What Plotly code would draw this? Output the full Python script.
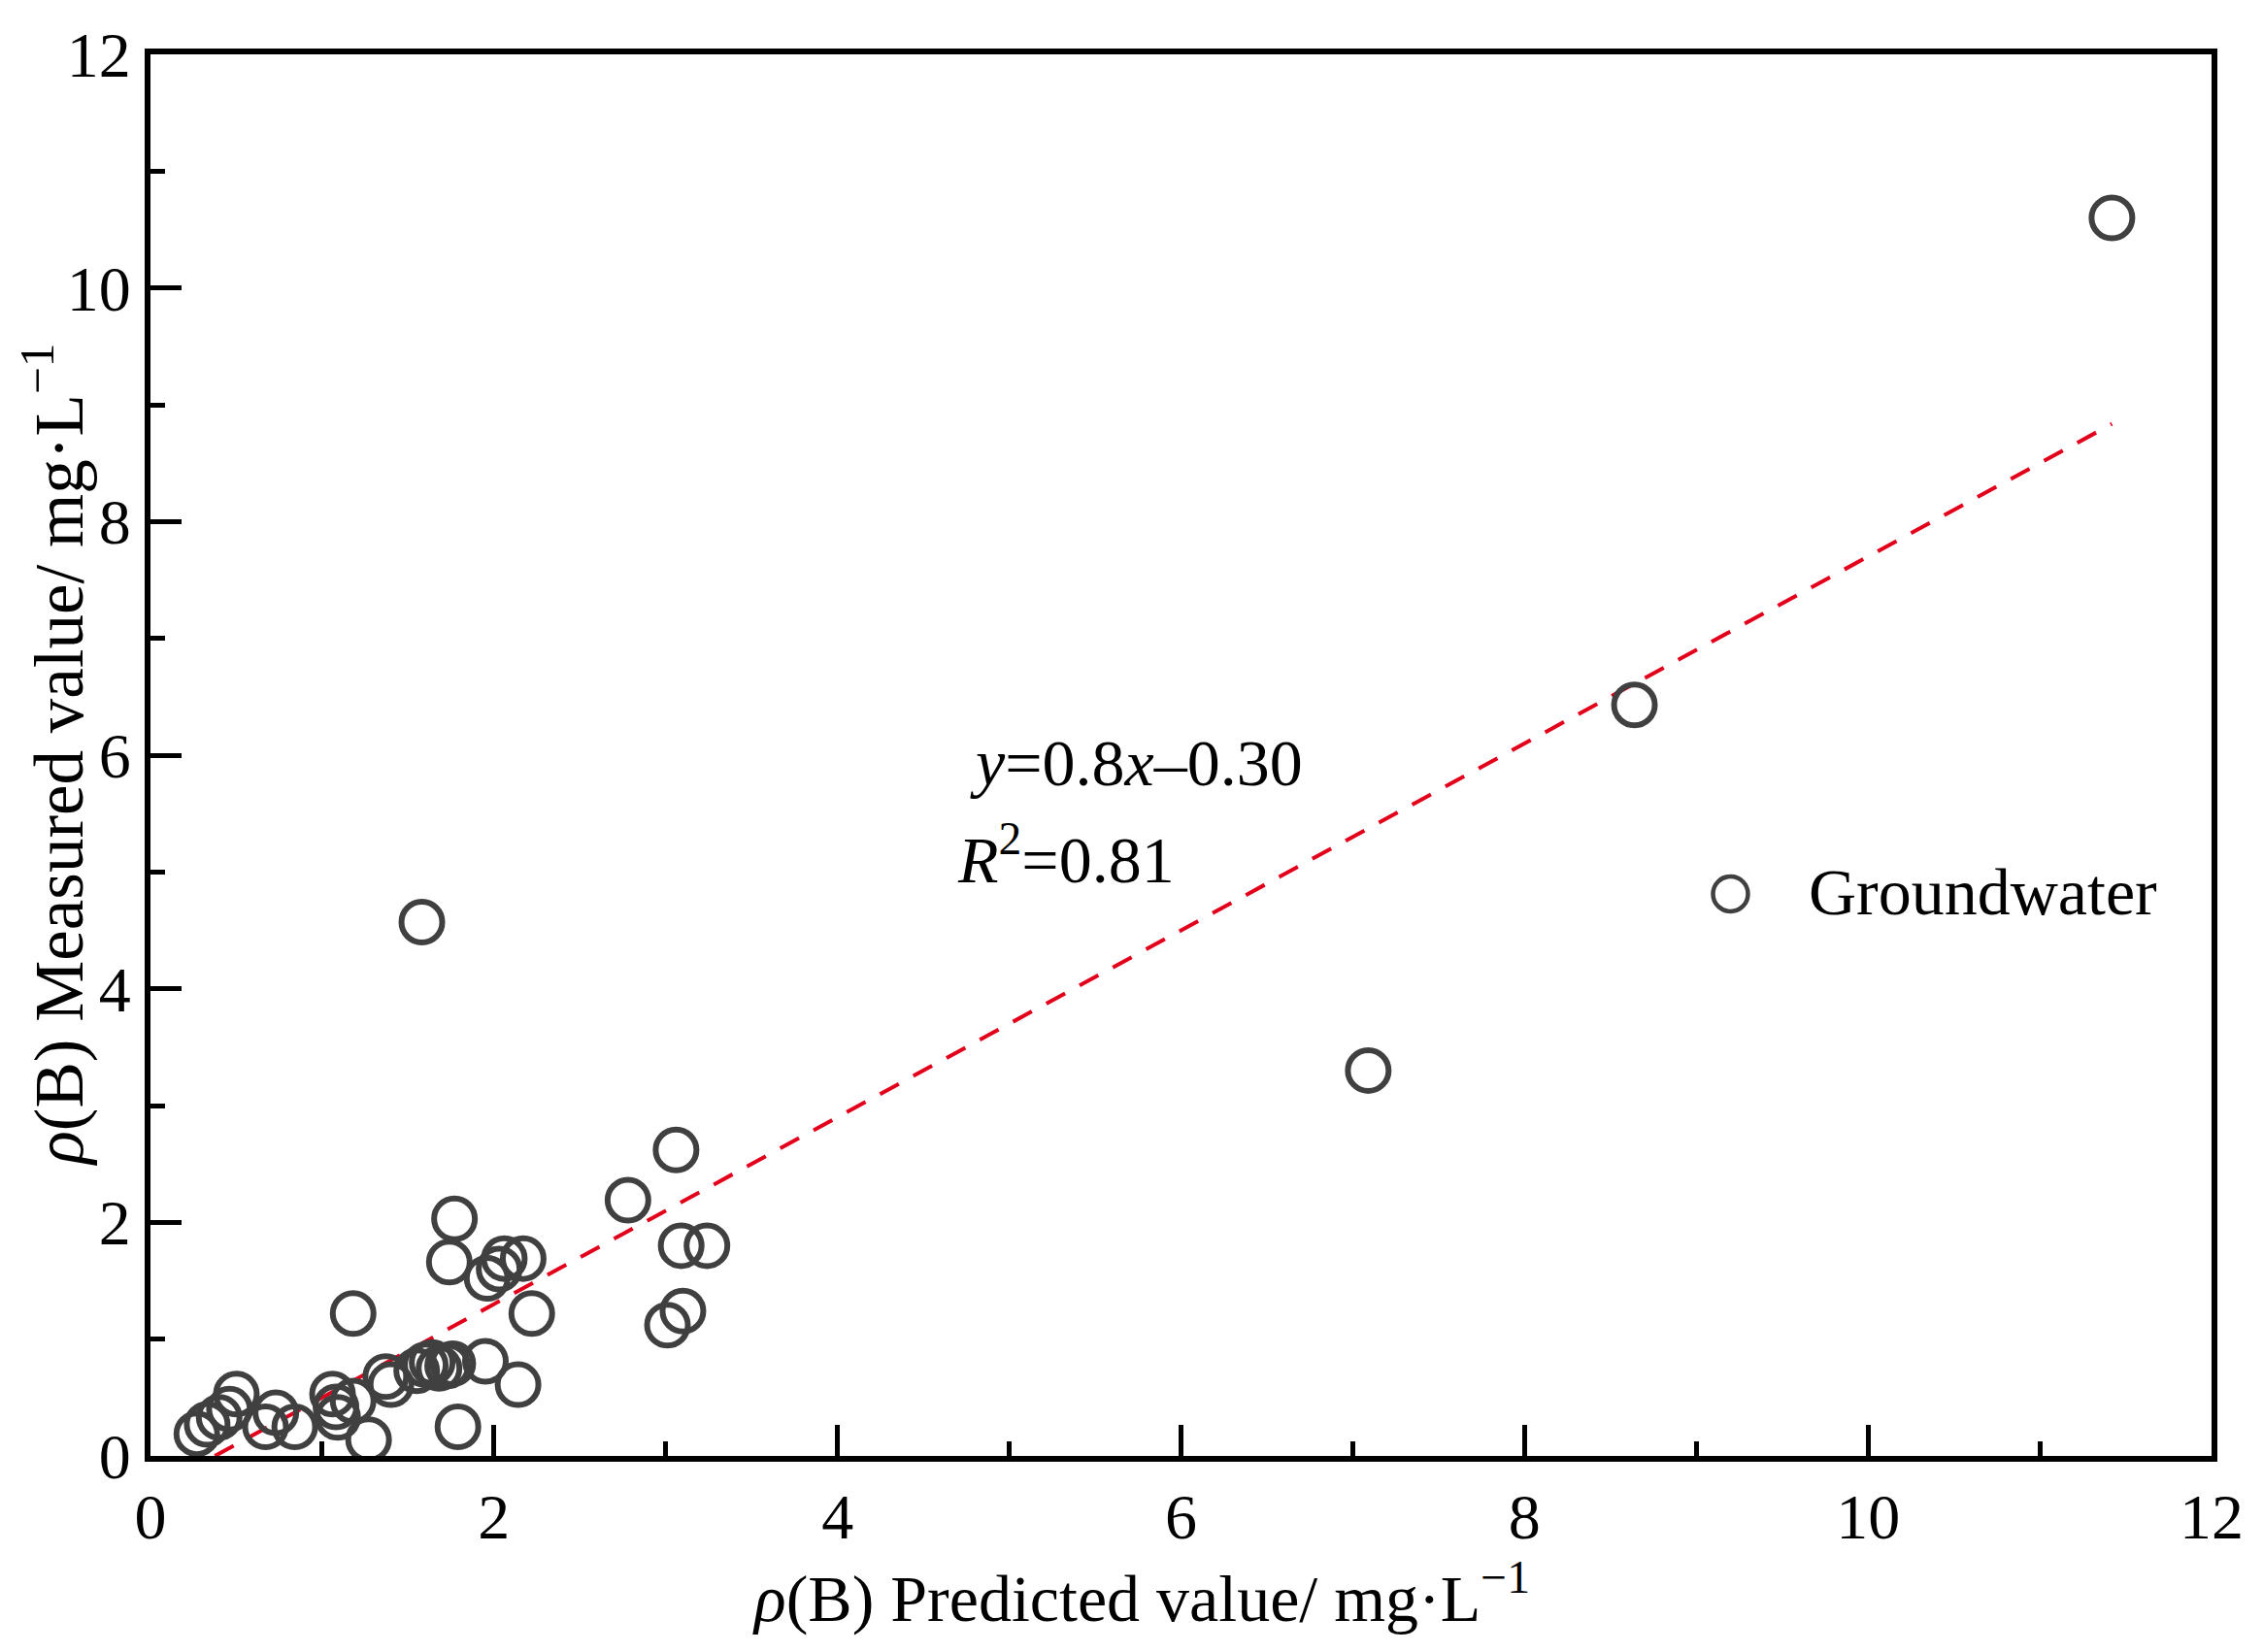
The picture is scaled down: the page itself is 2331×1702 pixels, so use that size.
import plotly.graph_objects as go

# ---- data ----
predicted = [11.42, 8.64, 7.09, 1.58,
             3.06, 2.78, 1.77, 1.74, 3.09, 3.24, 3.10, 3.01, 2.22, 2.17, 2.06, 2.03, 1.96,
             1.18, 1.95, 2.14, 1.79,
             1.55, 1.60, 1.64, 1.68, 1.73, 1.76,
             1.40, 1.37, 1.27, 1.18, 1.06, 1.08, 1.09,
             0.84, 0.73, 0.67, 0.50, 0.46, 0.40, 0.33, 0.27]
measured = [10.60, 6.43, 3.30, 4.57,
            2.62, 2.19, 2.03, 1.66, 1.80, 1.80, 1.24, 1.12, 1.22, 1.69, 1.69, 1.60, 1.52,
            1.22, 0.81, 0.61, 0.25,
            0.73, 0.78, 0.80, 0.75, 0.77, 0.79,
            0.61, 0.68, 0.14, 0.47, 0.53, 0.42, 0.33,
            0.25, 0.37, 0.25, 0.53, 0.40, 0.33, 0.27, 0.19]

fit_slope = 0.8
fit_intercept = -0.30
fit_x_start = 0.375
fit_x = [fit_x_start, max(predicted)]
fit_y = [fit_slope * v + fit_intercept for v in fit_x]

series_name = "Groundwater"
x_title = "<i>ρ</i>(B) Predicted value/ mg·L<sup>−1</sup>"
y_title = "<i>ρ</i>(B) Measured value/ mg·L<sup>−1</sup>"
eq_text = "<i>y</i>=0.8<i>x</i>–0.30"
r2_text = "<i>R</i><sup>2</sup>=0.81"

FONT = "Liberation Serif"
FS = 66
GREY = "#404040"
RED = "#e3001b"

fig = go.Figure()
fig.add_trace(go.Scatter(
    x=fit_x, y=fit_y, mode="lines",
    line=dict(color=RED, width=4, dash="22px,17px"),
    showlegend=False, hoverinfo="skip"))
fig.add_trace(go.Scatter(
    x=predicted, y=measured, mode="markers", name=series_name,
    marker=dict(symbol="circle-open", size=42, color=GREY,
                line=dict(color=GREY, width=6)),
    showlegend=False))

axis_common = dict(
    range=[0, 12], dtick=2, tick0=0,
    ticks="inside", ticklen=32, tickwidth=5, tickcolor="black",
    showline=True, linewidth=6, linecolor="black", mirror=True,
    showgrid=False, zeroline=False,
    tickfont=dict(family=FONT, size=FS, color="black"),
    minor=dict(dtick=1, ticks="inside", ticklen=15, tickwidth=5,
               tickcolor="black", showgrid=False),
)

fig.update_layout(
    width=2315, height=1686,
    margin=dict(l=147, r=39, t=44, b=194),
    paper_bgcolor="white", plot_bgcolor="white",
    font=dict(family=FONT, size=FS, color="black"),
    xaxis=dict(**axis_common, ticklabelstandoff=0),
    yaxis=dict(**axis_common, ticklabelstandoff=1),
    showlegend=False,
)

# axis titles
fig.add_annotation(text=x_title, xref="paper", yref="paper", x=0.4805, y=-0.0986,
                   xanchor="center", yanchor="middle", showarrow=False,
                   font=dict(family=FONT, size=68, color="black"))
fig.add_annotation(text=y_title, xref="paper", yref="paper", x=-0.0466, y=0.5005,
                   xanchor="center", yanchor="middle", textangle=-90, showarrow=False,
                   font=dict(family=FONT, size=71, color="black"))

# equation
fig.add_annotation(text=eq_text, xref="paper", yref="paper", x=0.3965, y=0.4945,
                   xanchor="left", yanchor="middle", showarrow=False,
                   font=dict(family=FONT, size=68, color="black"))
fig.add_annotation(text=r2_text, xref="paper", yref="paper", x=0.3905, y=0.4285,
                   xanchor="left", yanchor="middle", showarrow=False,
                   font=dict(family=FONT, size=68, color="black"))

# legend key (drawn manually so the symbol keeps the marker size)
leg_x, leg_y = 0.7666, 0.401
fig.add_shape(type="circle", xref="paper", yref="paper",
              xsizemode="pixel", ysizemode="pixel",
              xanchor=leg_x, yanchor=leg_y, x0=-18, x1=18, y0=-18, y1=18,
              line=dict(color=GREY, width=4.5))
fig.add_annotation(text=series_name, xref="paper", yref="paper", x=0.8035, y=0.4025,
                   xanchor="left", yanchor="middle", showarrow=False,
                   font=dict(family=FONT, size=68, color="black"))

fig.write_html("out.html")
